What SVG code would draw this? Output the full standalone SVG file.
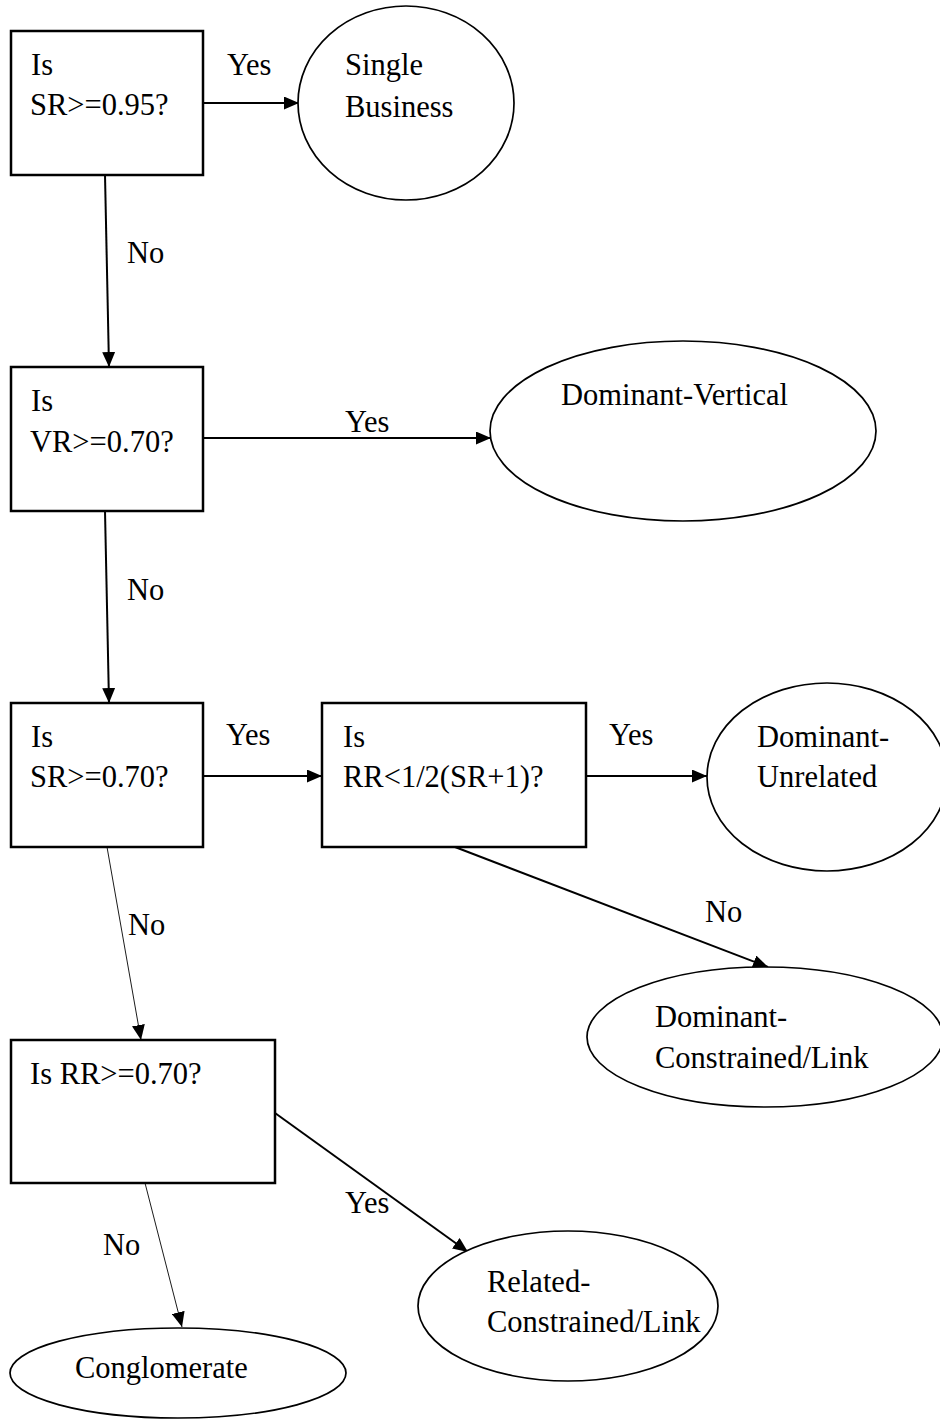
<svg xmlns="http://www.w3.org/2000/svg" width="940" height="1420" viewBox="0 0 940 1420">
<style>
text{font-family:"Liberation Serif","Times New Roman",serif;font-size:30.5px;fill:#000}
.box{fill:#fff;stroke:#000;stroke-width:2.5}
.ell{fill:#fff;stroke:#000;stroke-width:1.7}
.c{fill:none;stroke:#000;stroke-width:2}
.thin{fill:none;stroke:#000;stroke-width:0.9}
</style>
<defs>
<marker id="ah" viewBox="0 0 15 13" refX="15" refY="6.5" markerWidth="15" markerHeight="13" markerUnits="userSpaceOnUse" orient="auto">
<path d="M0,0 L15,6.5 L0,13 Z" fill="#000"/>
</marker>
</defs>
<rect width="940" height="1420" fill="#fff"/>
<g id="connectors">
<line class="c" x1="203" y1="103" x2="299" y2="103" marker-end="url(#ah)"/>
<line class="c" x1="105" y1="175" x2="109" y2="367" marker-end="url(#ah)"/>
<line class="c" x1="203" y1="438" x2="491" y2="438" marker-end="url(#ah)"/>
<line class="c" x1="105" y1="511" x2="109" y2="703" marker-end="url(#ah)"/>
<line class="c" x1="203" y1="776" x2="322" y2="776" marker-end="url(#ah)"/>
<line class="c" x1="586" y1="776" x2="707" y2="776" marker-end="url(#ah)"/>
<line class="c" x1="455" y1="847" x2="768" y2="967" marker-end="url(#ah)"/>
<line class="thin" x1="107" y1="847" x2="141" y2="1040" marker-end="url(#ah)"/>
<line class="c" x1="275" y1="1113" x2="468" y2="1252" marker-end="url(#ah)"/>
<line class="thin" x1="145" y1="1183" x2="182" y2="1327" marker-end="url(#ah)"/>
<text x="227" y="75">Yes</text>
<text x="127" y="263">No</text>
<text x="345" y="432">Yes</text>
<text x="127" y="600">No</text>
<text x="226" y="745">Yes</text>
<text x="609" y="745">Yes</text>
<text x="705" y="922">No</text>
<text x="128" y="935">No</text>
<text x="345" y="1213">Yes</text>
<text x="103" y="1255">No</text>
</g>
<g id="q1">
<rect class="box" x="11" y="31" width="192" height="144"/>
<text x="31" y="75">Is</text>
<text x="30" y="115">SR&gt;=0.95?</text>
</g>
<g id="single-business">
<ellipse class="ell" cx="406" cy="103" rx="108" ry="97"/>
<text x="345" y="75">Single</text>
<text x="345" y="117">Business</text>
</g>
<g id="q2">
<rect class="box" x="11" y="367" width="192" height="144"/>
<text x="31" y="411">Is</text>
<text x="30" y="452">VR&gt;=0.70?</text>
</g>
<g id="dominant-vertical">
<ellipse class="ell" cx="683" cy="431" rx="193" ry="90"/>
<text x="561" y="405">Dominant-Vertical</text>
</g>
<g id="q3">
<rect class="box" x="11" y="703" width="192" height="144"/>
<text x="31" y="747">Is</text>
<text x="30" y="787">SR&gt;=0.70?</text>
</g>
<g id="q4">
<rect class="box" x="322" y="703" width="264" height="144"/>
<text x="343" y="747">Is</text>
<text x="343" y="787">RR&lt;1/2(SR+1)?</text>
</g>
<g id="dominant-unrelated">
<ellipse class="ell" cx="827" cy="777" rx="120" ry="94"/>
<text x="757" y="747">Dominant-</text>
<text x="757" y="787">Unrelated</text>
</g>
<g id="dominant-constrained">
<ellipse class="ell" cx="765" cy="1037" rx="178" ry="70"/>
<text x="655" y="1027">Dominant-</text>
<text x="655" y="1068">Constrained/Link</text>
</g>
<g id="q5">
<rect class="box" x="11" y="1040" width="264" height="143"/>
<text x="30" y="1084">Is RR&gt;=0.70?</text>
</g>
<g id="related-constrained">
<ellipse class="ell" cx="568" cy="1306" rx="150" ry="75"/>
<text x="487" y="1292">Related-</text>
<text x="487" y="1332">Constrained/Link</text>
</g>
<g id="conglomerate">
<ellipse class="ell" cx="178" cy="1373" rx="168" ry="45"/>
<text x="75" y="1378">Conglomerate</text>
</g>
</svg>
